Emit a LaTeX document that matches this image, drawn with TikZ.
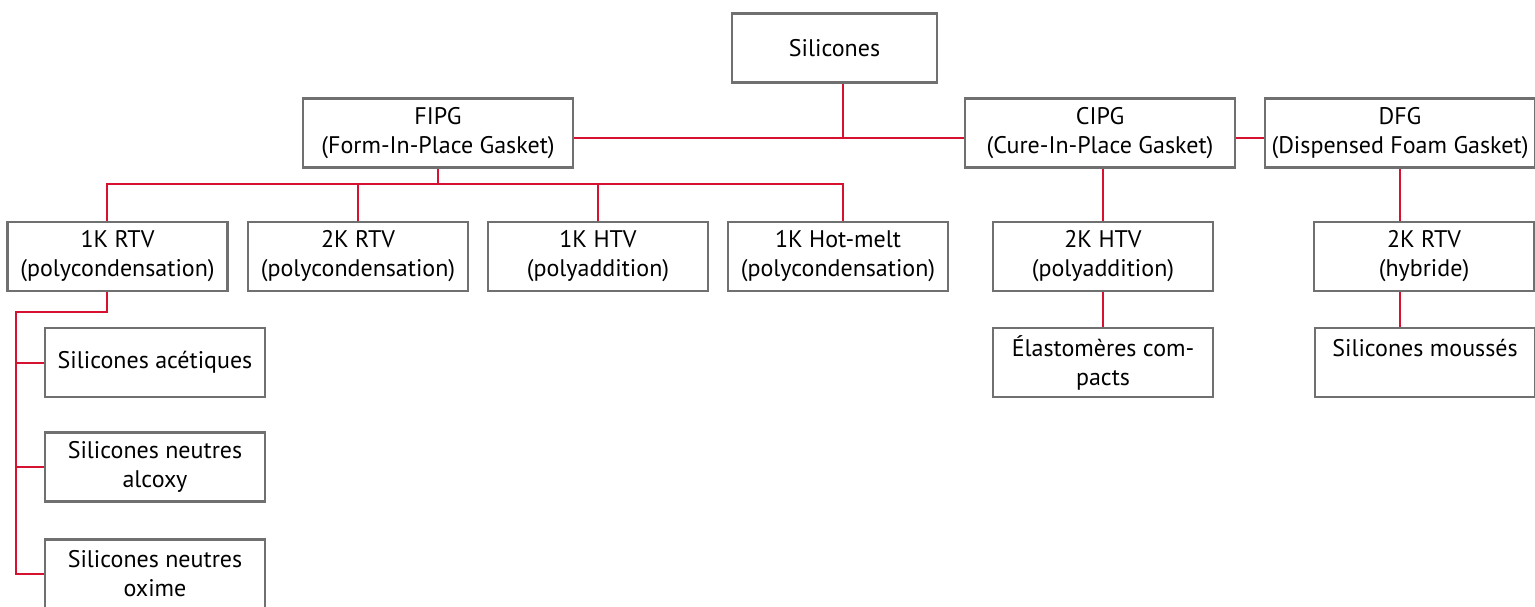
\documentclass[tikz,border=0pt]{standalone}
\usepackage{fontspec}
\setmainfont{PT Sans}
\definecolor{linkred}{RGB}{215,18,48}
\definecolor{boxgray}{RGB}{112,112,112}

\begin{document}
\begin{tikzpicture}[x=0.5pt,y=-0.5pt,
    box/.style={draw=boxgray, line width=1.2pt, minimum width=110pt, minimum height=34.5pt,
      inner sep=0pt, align=center, font=\fontsize{12}{14.5}\selectfont},
    wide/.style={box, minimum width=135pt},
    link/.style={draw=linkred, line width=1pt}]
        \useasboundingbox (0,0) rectangle (1535,606);

        % top level
        \node[box, minimum width=102.5pt] (sil) at (834.5,48) {Silicones};
        \node[wide] (fipg) at (438,133) {FIPG\\(Form-In-Place Gasket)};
        \node[wide] (cipg) at (1100,133) {CIPG\\(Cure-In-Place Gasket)};
        \node[wide] (dfg) at (1400,133) {DFG\\(Dispensed Foam Gasket)};

        % second row
        \node[box] (rtvA) at (117.5,256.5) {1K RTV\\(polycondensation)};
        \node[box] (rtvB) at (358,256.5) {2K RTV\\(polycondensation)};
        \node[box] (htvA) at (598,256.5) {1K HTV\\(polyaddition)};
        \node[box] (hotmelt) at (838,256.5) {1K Hot-melt\\(polycondensation)};
        \node[box] (htvB) at (1103,256.5) {2K HTV\\(polyaddition)};
        \node[box] (rtvC) at (1424,256.5) {2K RTV\\(hybride)};

        % third row
        \node[box] (acetic) at (155,362.5) {Silicones acétiques};
        \node[box] (alcoxy) at (155,467) {Silicones neutres\\alcoxy};
        \node[box] (oxime) at (155,574) {Silicones neutres\\oxime};
        \node[box] (elasto) at (1103,362.5) {Élastomères com-\\pacts};
        \node[box] (mousse) at (1425,362.5) {Silicones moussés\\\phantom{X}};

        % links
        \coordinate (top) at (843,138);
        \coordinate (fbus) at (438,184);
        \coordinate (lbus) at (16,312);
        \draw[link] (sil.south -| top) -- (top);
        \draw[link] (fipg.east |- top) -- (cipg.west |- top);
        \draw[link] (cipg.east |- top) -- (dfg.west |- top);

        \draw[link] (fipg.south) -- (fbus);
        \draw[link] ([xshift=-5.25pt]rtvA.north) |- (fbus) -| ([xshift=2.5pt]hotmelt.north);
        \draw[link] (rtvB.north) -- (rtvB.north |- fbus);
        \draw[link] (htvA.north) -- (htvA.north |- fbus);

        \draw[link] ([xshift=-5.25pt]rtvA.south) |- (lbus) |- (oxime.west);
        \draw[link] (acetic.west) -- (acetic.west -| lbus);
        \draw[link] (alcoxy.west) -- (alcoxy.west -| lbus);

        \draw[link] (htvB.north |- cipg.south) -- (htvB.north);
        \draw[link] (htvB) -- (elasto);
        \draw[link] (dfg.south) -- (dfg.south |- rtvC.north);
        \draw[link] (rtvC.south -| dfg.south) -- (mousse.north -| dfg.south);
    \end{tikzpicture}
\end{document}
